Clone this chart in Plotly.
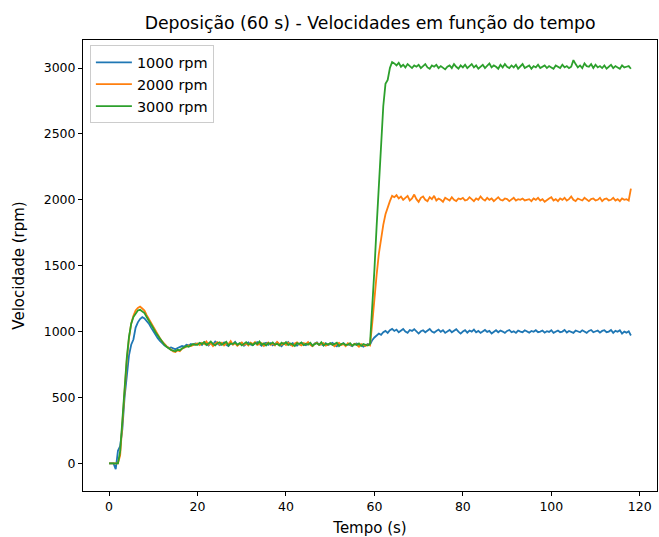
import numpy as np
import plotly.graph_objects as go

DT = 0.5  # sampling interval (s)

# ---------------- 1000 rpm ----------------
rpm1000_start = [0, 0, 0, -45, 95, 130, 260, 500, 680, 820,
                 900, 940, 1030, 1070, 1095, 1110, 1100, 1080, 1060, 1030,
                 1000, 975, 950, 930, 910, 895, 885, 875, 880, 870,
                 865, 875, 880, 890, 885, 900, 895, 905, 900, 910]
rpm1000_mid = [905, 912, 898, 920, 908, 895, 915, 902, 925, 910,
               896, 905, 918, 900, 890, 912, 905, 922, 898, 908,
               915, 893, 905, 918, 902, 896, 910, 920, 905, 892,
               908, 915, 900, 912, 895, 905, 918, 902, 888, 910,
               905, 920, 898, 912, 900, 893, 908, 915, 902, 896,
               912, 905, 890, 910, 918, 900, 905, 893, 912, 898,
               905, 915, 900, 888, 908, 902, 912, 895, 905, 898,
               890, 905, 910, 895, 900, 885, 898, 905]
rpm1000_step = [900, 935, 955, 970, 985, 975, 995, 1005, 990, 1010, 1020]
rpm1000_end = [1005, 1015, 995, 1010, 1020, 1000, 990, 1012, 1005, 1018,
               998, 985, 1002, 1010, 995, 1008, 1020, 1000, 992, 1005,
               1015, 998, 1010, 990, 1002, 1012, 995, 1005, 1018, 1000,
               985, 1000, 1010, 992, 1008, 1000, 1015, 995, 1005, 990,
               1002, 1012, 998, 1005, 985, 1000, 1010, 995, 1008, 1000,
               990, 1005, 1012, 995, 1002, 990, 1008, 1000, 995, 1010,
               1000, 992, 1005, 998, 1010, 995, 1000, 1008, 992, 1003,
               997, 1010, 990, 1002, 1008, 995, 1000, 1012, 993, 1005,
               998, 990, 1008, 1000, 995, 1010, 1002, 990, 1005, 1012,
               995, 1000, 1008, 992, 1005, 1010, 995, 1000, 1012, 990,
               1005, 998, 1010, 985, 1000, 992, 1003, 970]

# ---------------- 2000 rpm ----------------
rpm2000_start = [0, 0, 0, 0, 0, 60, 300, 560, 780, 950,
                 1060, 1120, 1160, 1180, 1190, 1175, 1160, 1125, 1095, 1060,
                 1030, 1000, 975, 950, 925, 905, 890, 875, 862, 850,
                 845, 858, 852, 870, 878, 885, 895, 890, 900, 905]
rpm2000_mid = [910, 898, 915, 905, 925, 900, 912, 890, 908, 920,
               902, 915, 895, 910, 905, 928, 900, 912, 893, 908,
               918, 900, 910, 895, 915, 905, 920, 898, 908, 912,
               890, 905, 918, 900, 910, 895, 922, 905, 900, 912,
               898, 915, 905, 890, 910, 918, 902, 895, 912, 905,
               920, 900, 890, 908, 915, 898, 905, 912, 893, 900,
               910, 902, 888, 905, 915, 898, 905, 890, 912, 900,
               895, 908, 900, 885, 905, 898, 890, 902]
rpm2000_step = [895, 1060, 1260, 1430, 1590, 1710, 1810, 1890, 1950, 1990, 2030]
rpm2000_end = [2020, 2035, 2010, 2025, 2000, 2015, 2030, 1995, 2010, 2040,
               2005, 1985, 2015, 2025, 2000, 1990, 2020, 2005, 2030, 1995,
               2010, 2000, 1985, 2015, 2005, 1995, 2020, 2000, 1990, 2010,
               2005, 2015, 1995, 2000, 2020, 2005, 1990, 2010, 2000, 2025,
               2005, 1995, 2015, 2000, 2010, 1990, 2005, 2020, 2000, 1995,
               2010, 2005, 1990, 2000, 2015, 1995, 2005, 2000, 2010, 1995,
               2000, 2005, 1990, 2010, 2000, 2015, 1995, 2005, 1985, 2000,
               2010, 2020, 1995, 2005, 1990, 2010, 2000, 2015, 1995, 2005,
               2025, 2000, 1990, 2010, 2005, 1995, 2015, 2000, 1990, 2005,
               2010, 1995, 2000, 2015, 1990, 2005, 2010, 1995, 2000, 2015,
               1995, 2005, 1990, 2010, 2000, 2005, 1995, 2085]

# ---------------- 3000 rpm ----------------
rpm3000_start = [0, 0, 0, 0, 0, 90, 330, 580, 800, 960,
                 1060, 1110, 1140, 1160, 1165, 1155, 1140, 1110, 1085, 1055,
                 1025, 995, 970, 945, 920, 900, 885, 870, 860, 855,
                 850, 862, 858, 872, 880, 890, 885, 898, 905, 900]
rpm3000_mid = [900, 915, 905, 920, 898, 910, 925, 905, 895, 912,
               918, 900, 908, 922, 895, 910, 905, 918, 900, 912,
               895, 908, 920, 902, 910, 898, 915, 905, 925, 900,
               910, 895, 912, 905, 918, 900, 908, 895, 915, 905,
               920, 898, 910, 902, 890, 912, 905, 918, 898, 908,
               900, 915, 893, 905, 912, 900, 920, 895, 908, 902,
               912, 898, 905, 915, 890, 905, 910, 898, 900, 912,
               893, 905, 898, 910, 890, 905, 900, 895]
rpm3000_step = [905, 1160, 1470, 1800, 2120, 2430, 2710, 2880, 2910, 3000, 3045]
rpm3000_end = [3035, 3020, 3040, 3010, 3025, 3005, 3030, 3015, 3000, 3020,
               3010, 3025, 3000, 3015, 3030, 3005, 2995, 3020, 3010, 3025,
               3000, 3015, 3005, 2990, 3010, 3020, 3000, 3030, 3010, 2995,
               3020, 3005, 3025, 3000, 3015, 3030, 3005, 3020, 2995, 3010,
               3025, 3000, 3015, 3035, 3005, 3020, 3010, 2995, 3025, 3005,
               3030, 3010, 3000, 3020, 3005, 3025, 2995, 3015, 3030, 3000,
               3010, 3020, 2995, 3015, 3005, 3025, 3000, 3010, 3020, 3000,
               3015, 3005, 2995, 3020, 3010, 3000, 3025, 3005, 3015, 3000,
               3010, 3060, 3030, 3005, 3020, 3000, 3035, 3015, 3010, 3030,
               3000, 3025, 3005, 3015, 3000, 3020, 2995, 3010, 3025, 3000,
               3015, 3005, 2995, 3020, 3005, 3010, 3015, 2995]

series_names = ["1000 rpm", "2000 rpm", "3000 rpm"]
series_colors = ["#1f77b4", "#ff7f0e", "#2ca02c"]
series_values = [
    rpm1000_start + rpm1000_mid + rpm1000_step + rpm1000_end,
    rpm2000_start + rpm2000_mid + rpm2000_step + rpm2000_end,
    rpm3000_start + rpm3000_mid + rpm3000_step + rpm3000_end,
]

x_ticks = [0, 20, 40, 60, 80, 100, 120]
y_ticks = [0, 500, 1000, 1500, 2000, 2500, 3000]

FONT = "DejaVu Sans"

fig = go.Figure()
for name, color, vals in zip(series_names, series_colors, series_values):
    t = np.arange(len(vals)) * DT
    fig.add_trace(go.Scatter(x=t, y=vals, mode="lines", name=name,
                             line=dict(color=color, width=1.8)))

axis_common = dict(showline=True, linecolor="black", linewidth=1, mirror=True,
                   ticks="outside", ticklen=4, tickcolor="black",
                   showgrid=False, zeroline=False, automargin=False,
                   tickfont=dict(family=FONT, size=12.5, color="black"))

fig.update_layout(
    width=659, height=537,
    margin=dict(l=83, r=2, t=40, b=46),
    paper_bgcolor="white", plot_bgcolor="white",
    font=dict(family=FONT, color="black"),
    title=dict(text="Deposição (60 s) - Velocidades em função do tempo",
               x=0.5617, xanchor="center", y=0.958, yanchor="middle",
               font=dict(family=FONT, size=17.3, color="black")),
    xaxis=dict(range=[-5.9, 123.9], tickvals=x_ticks,
               title=dict(text="Tempo (s)", font=dict(family=FONT, size=15), standoff=9),
               **axis_common),
    yaxis=dict(range=[-210, 3213], tickvals=y_ticks,
               title=dict(text="Velocidade (rpm)", font=dict(family=FONT, size=15), standoff=15),
               **axis_common),
    legend=dict(x=0.012, y=0.988, xanchor="left", yanchor="top",
                bgcolor="rgba(255,255,255,0.8)", bordercolor="#cccccc", borderwidth=1,
                font=dict(family=FONT, size=14.5), tracegroupgap=0,
                itemwidth=36),
    showlegend=True,
)

fig.write_html("out.html", config={"displayModeBar": False},
               post_script="document.body.style.margin='0';document.body.style.overflow='hidden';")
